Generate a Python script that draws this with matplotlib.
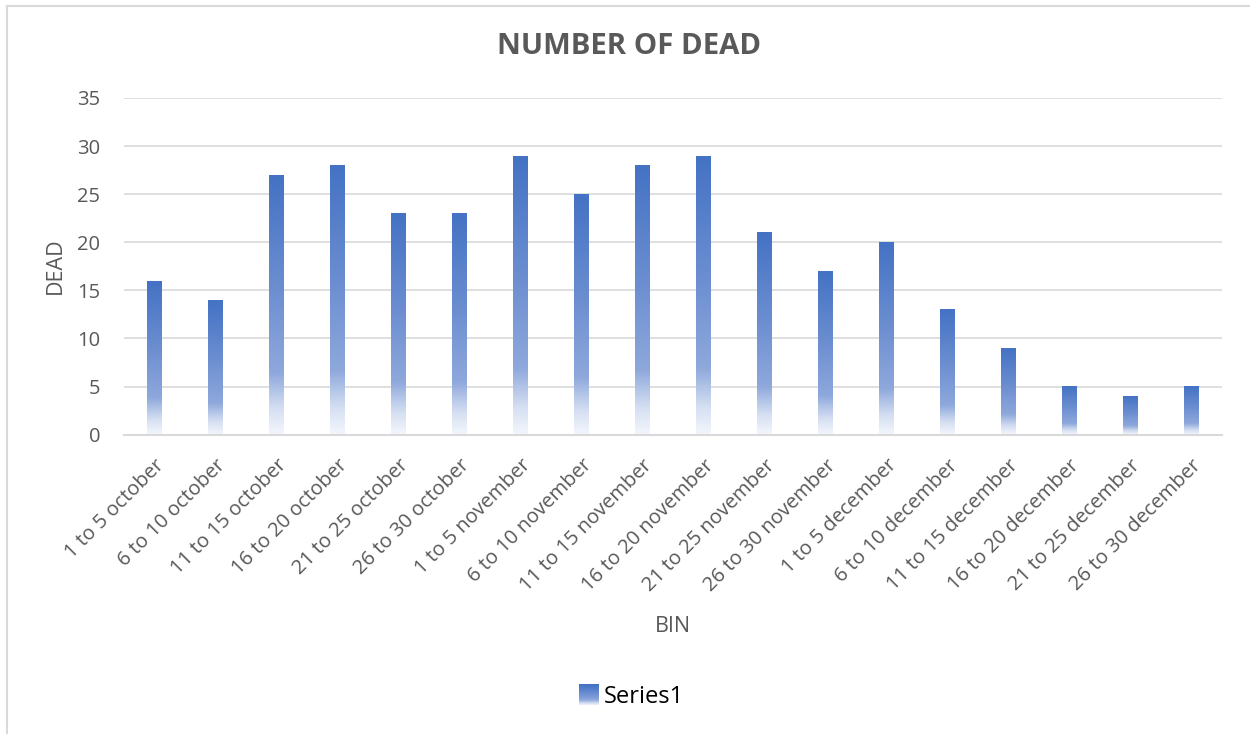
import matplotlib
matplotlib.use("Agg")
import matplotlib.pyplot as plt
import numpy as np
from matplotlib.colors import LinearSegmentedColormap
from matplotlib.legend_handler import HandlerBase
from matplotlib.lines import Line2D
from matplotlib.patches import Rectangle

plt.rcParams["font.family"] = ["Open Sans", "DejaVu Sans"]

bins = [
    "1 to 5 october", "6 to 10 october", "11 to 15 october", "16 to 20 october",
    "21 to 25 october", "26 to 30 october", "1 to 5 november", "6 to 10 november",
    "11 to 15 november", "16 to 20 november", "21 to 25 november", "26 to 30 november",
    "1 to 5 december", "6 to 10 december", "11 to 15 december", "16 to 20 december",
    "21 to 25 december", "26 to 30 december",
]
dead = [16, 14, 27, 28, 23, 23, 29, 25, 28, 29, 21, 17, 20, 13, 9, 5, 4, 5]
y_ticks = [0, 5, 10, 15, 20, 25, 30, 35]

TEXT = "#595959"
GRID = "#D9D9D9"

# vertical fill: pale at the base, full blue at the top of every bar
fade = LinearSegmentedColormap.from_list(
    "fade",
    [(0.0, "#F4F7FC"), (0.10, "#D5DFF2"), (0.24, "#8EA8DC"),
     (0.55, "#6D8FD1"), (1.0, "#4472C4")],
)
ramp = np.linspace(0, 1, 256).reshape(-1, 1)


class GradientHandler(HandlerBase):
    def create_artists(self, legend, orig_handle, xdescent, ydescent,
                       width, height, fontsize, trans):
        side = height * 1.25
        x0 = xdescent + (width - side) / 2
        y0 = -ydescent + (height - side) / 2
        steps = 24
        out = []
        for i in range(steps):
            out.append(Rectangle((x0, y0 + side * i / steps), side, side / steps + 0.2,
                                 facecolor=fade(i / (steps - 1)), edgecolor="none",
                                 transform=trans))
        return out


fig = plt.figure(figsize=(12.5, 7.34), dpi=100)
ax = fig.add_axes([0.0992, 0.4078, 0.8784, 0.4587])

x = np.arange(len(bins))
bars = ax.bar(x, dead, width=0.23, color="none", edgecolor="none")
for rect in bars:
    bx, bw, bh = rect.get_x(), rect.get_width(), rect.get_height()
    ax.imshow(ramp, cmap=fade, origin="lower", aspect="auto",
              extent=[bx, bx + bw, 0, bh], zorder=2, interpolation="bilinear")

ax.set_xlim(-0.5, len(bins) - 0.5)
ax.set_ylim(0, 35)
ax.set_yticks(y_ticks)
ax.set_xticks(x)
ax.set_xticklabels(bins, rotation=45, ha="right", rotation_mode="anchor")

ax.grid(axis="y", color=GRID, linewidth=1.2, zorder=0)
ax.set_axisbelow(True)
for side in ["top", "right", "left"]:
    ax.spines[side].set_visible(False)
ax.spines["bottom"].set_color(GRID)
ax.spines["bottom"].set_linewidth(1.5)
ax.tick_params(axis="y", length=0, pad=17, labelsize=14.5, labelcolor=TEXT)
ax.tick_params(axis="x", length=0, pad=15, labelsize=14.5, labelcolor=TEXT)

fig.text(0.503, 0.936, "NUMBER OF DEAD", ha="center", va="center",
         fontsize=21.2, fontweight="bold", color=TEXT)
fig.text(0.044, 0.638, "DEAD", rotation=90, ha="center", va="center",
         fontsize=15.5, color=TEXT)
fig.text(0.538, 0.147, "BIN", ha="center", va="center", fontsize=15.5, color=TEXT)

handle = Line2D([], [])
fig.legend([handle], ["Series1"], loc="center", bbox_to_anchor=(0.506, 0.050),
           frameon=False, fontsize=17, handler_map={Line2D: GradientHandler()},
           handlelength=0.7, handletextpad=0.3, labelcolor="black")

# chart area outline: left and top edges
fig.add_artist(Line2D([0.0056, 0.0056], [0.0, 0.9918], color=GRID, linewidth=1.5,
                      transform=fig.transFigure))
fig.add_artist(Line2D([0.0056, 1.0], [0.9918, 0.9918], color=GRID, linewidth=1.5,
                      transform=fig.transFigure))

fig.savefig("out.png", dpi=100, facecolor="white")
